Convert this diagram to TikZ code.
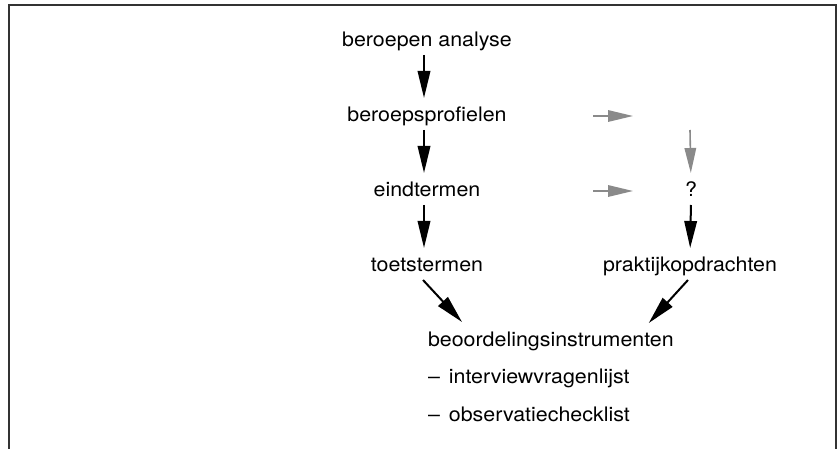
\documentclass[tikz,border=0pt]{standalone}
\usepackage{fontspec}
\setmainfont{TeX Gyre Heros}[FakeStretch=1.07]
\usetikzlibrary{arrows.meta,calc}
\definecolor{framegray}{HTML}{333333}
\definecolor{hintgray}{HTML}{8A8A8A}
\begin{document}
\begin{tikzpicture}[x=1pt,y=-1pt,
  lbl/.style={inner sep=0pt, outer sep=0pt, text height=14pt, text depth=4pt,
    font=\fontsize{20}{24}\selectfont, anchor=base},
  flow/.style={line width=2pt, -{Triangle[length=27pt,width=12.5pt]},
    shorten <=4pt, shorten >=10pt},
  hint/.style={line width=1.6pt, draw=hintgray, fill=hintgray,
    -{Triangle[length=25pt,width=11.5pt]}},
  frameline/.style={line width=2.2pt, draw=framegray}
]
\useasboundingbox (0,0) rectangle (839,449);

% open frame (no bottom edge)
\draw[frameline] (9,449) -- (9,5) -- (836,5) -- (836,449);

% main column
\node[lbl] (ana)   at (427,47)  {beroepen analyse};
\node[lbl] (prof)  at (427,122) {beroepsprofielen};
\node[lbl] (eind)  at (427,197) {eindtermen};
\node[lbl] (toets) at (427,272) {toetstermen};

% right column
\node[lbl] (vraag) at (691,197) {?};
\node[lbl] (prak)  at (690,272) {praktijkopdrachten};

% instruments with list
\node[lbl, anchor=base west] (beo) at (428,347) {beoordelingsinstrumenten};
\node[lbl, anchor=base west] (int) at (428,384) {–\hspace{9pt}interviewvragenlijst};
\node[lbl, anchor=base west] (obs) at (428,421) {–\hspace{9pt}observatiechecklist};

% free ends of the grey arrows
\coordinate (h1s) at (593,116);
\coordinate (h1e) at (633,116);
\coordinate (h2s) at (593,191);
\coordinate (h2e) at (633,191);
\coordinate (vs)  at (690,130);

% main flow
\draw[flow] ([xshift=-3pt]ana.south)  -- ([xshift=-3pt]prof.north);
\draw[flow] ([xshift=-3pt]prof.south) -- ([xshift=-3pt]eind.north);
\draw[flow] ([xshift=-3pt]eind.south) -- ([xshift=-3pt]toets.north);
\draw[flow] (vraag.south) -- (prak.north);

% converging arrows
\draw[line width=2pt, -{Triangle[length=28pt,width=13pt]}]
  ($(toets.south)+(-4,4)$) -- ($(beo.north west)+(34,-11)$);
\draw[line width=2pt, -{Triangle[length=28pt,width=13pt]}]
  ($(prak.south)+(-2,4)$) -- ($(beo.north east)+(-25,-10)$);

% grey arrows
\draw[hint] (h1s) -- (h1e);
\draw[hint] (h2s) -- (h2e);
\draw[hint, shorten >=10pt] (vs) -- (vraag.north);
\end{tikzpicture}
\end{document}
